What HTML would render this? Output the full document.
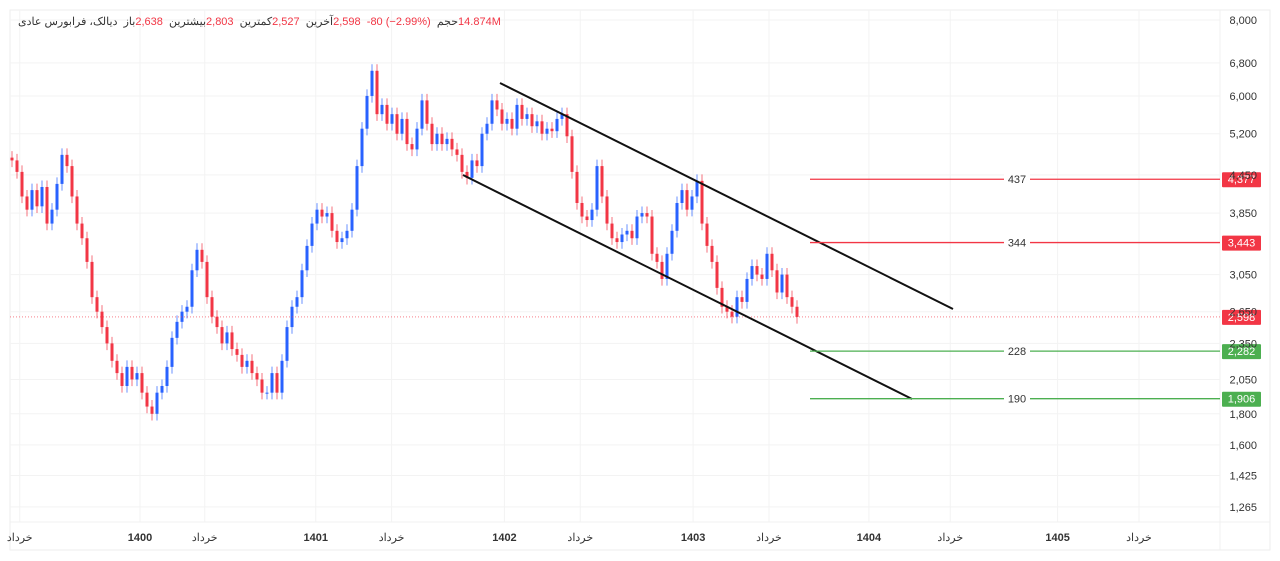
<!DOCTYPE html>
<html><head><meta charset="utf-8"><style>
body{margin:0;background:#fff;font-family:"Liberation Sans","Noto Sans CJK SC",sans-serif;}
svg text{font-family:"Liberation Sans","Noto Sans CJK SC",sans-serif;}
#hdr{position:absolute;left:18px;top:15px;font-size:11px;color:#333;direction:ltr;white-space:nowrap;}
#hdr span{color:#f23645;unicode-bidi:isolate;direction:ltr;}
#hdr bdi{unicode-bidi:isolate;}
</style></head><body>
<svg id="c" width="1280" height="561" viewBox="0 0 1280 561" xmlns="http://www.w3.org/2000/svg" style="position:absolute;left:0;top:0">
<rect x="0" y="0" width="1280" height="561" fill="#fff"/>
<rect x="10" y="10" width="1260" height="540" fill="none" stroke="#eeeeee"/>
<line x1="1220" y1="10" x2="1220" y2="550" stroke="#f0f0f0"/>
<line x1="10" y1="522" x2="1270" y2="522" stroke="#f0f0f0"/>
<g id="grid"></g><g id="candles"></g><g id="overlay"></g><g id="axes"></g>
</svg>
<div id="hdr"><bdi dir="rtl">دیالک، فرابورس عادی</bdi>&nbsp; <bdi dir="rtl">باز</bdi><span>2,638</span>&nbsp; <bdi dir="rtl">بیشترین</bdi><span>2,803</span>&nbsp; <bdi dir="rtl">کمترین</bdi><span>2,527</span>&nbsp; <bdi dir="rtl">آخرین</bdi><span>2,598</span>&nbsp; <span>-80 (−2.99%)</span>&nbsp; <bdi dir="rtl">حجم</bdi><span>14.874M</span></div>
<script>
const ticks=[8000,6800,6000,5200,4450,3850,3050,2650,2350,2050,1800,1600,1425,1265];
const xLabels=["خرداد","1400","خرداد","1401","خرداد","1402","خرداد","1403","خرداد","1404","خرداد","1405","خرداد"];
const xLabelPos=[-0.25,0.4,0.75,1.35,1.76,2.37,2.78,3.39,3.8,4.34,4.78,5.36,5.8];
const closes=[4700,4500,4100,3900,4200,3950,4250,3700,3900,4300,4800,4600,4100,3700,3500,3200,2800,2650,2500,2350,2200,2100,2000,2150,2050,2100,1950,1850,1800,1950,2000,2150,2400,2550,2650,2700,3100,3350,3200,2800,2600,2500,2350,2450,2300,2250,2150,2200,2100,2050,1950,1950,2100,1950,2200,2500,2700,2800,3100,3400,3700,3900,3800,3850,3600,3450,3500,3600,3900,4600,5300,6000,6600,5600,5800,5400,5600,5200,5500,5000,4900,5300,5900,5400,5000,5200,5000,5100,4900,4800,4500,4400,4700,4600,5200,5400,5900,5700,5400,5500,5300,5800,5500,5600,5350,5450,5200,5300,5250,5500,5600,5150,4500,4000,3800,3750,3900,4600,4100,3700,3500,3450,3550,3600,3500,3800,3850,3800,3300,3200,3000,3300,3600,4000,4200,3900,4100,4350,3700,3400,3200,2900,2700,2650,2600,2800,2750,3000,3150,3050,3000,3300,3100,2850,3050,2800,2700,2598];
const firstOpen=4750;
const levels=[4377,3443,2282,1906];
const levelLabels=["437","344","228","190"];
const levelColors=["#f23645","#f23645","#4caf50","#4caf50"];
const lastPrice=2598;
const NS="http://www.w3.org/2000/svg";
function y(p){return 20+Math.log(8000/p)*264;}
function xi(i){return 12+i*5;}
function xYear(t){return 140+t*185;}
function mk(tag,attrs,parent){const e=document.createElementNS(NS,tag);for(const k in attrs)e.setAttribute(k,attrs[k]);parent.appendChild(e);return e;}
const grid=document.getElementById('grid'),cg=document.getElementById('candles'),ov=document.getElementById('overlay'),ax=document.getElementById('axes');
ticks.forEach(t=>{const l=mk('line',{x1:10,x2:1220,y1:y(t),y2:y(t),stroke:'#f3f3f3'},grid);

});
xLabelPos.forEach((p,i)=>{const X=xYear(p-0.4);const l=mk('line',{x1:X,x2:X,y1:10,y2:522,stroke:'#f3f3f3'},grid);


const t=mk('text',{x:X,y:541,'text-anchor':'middle','font-size':11,fill:'#333','font-weight':/^\d+$/.test(xLabels[i])?'bold':'normal'},ax);t.textContent=xLabels[i];

});
ticks.forEach(t=>{const e=mk('text',{x:1257,y:y(t)+4,'text-anchor':'end','font-size':11,fill:'#333'},ax);e.textContent=t.toLocaleString('en-US');

});
closes.forEach((c,i)=>{const o=i?closes[i-1]:firstOpen;const up=c>=o;const col=up?'#2962ff':'#f23645';const X=xi(i);
const hi=Math.max(o,c)*1.025,lo=Math.min(o,c)*0.975;
const w=mk('line',{x1:X,x2:X,y1:y(hi),y2:y(lo),stroke:col,'stroke-width':1,opacity:0.7},cg);


const top=y(Math.max(o,c)),bot=y(Math.min(o,c));
const b=mk('rect',{x:X-1.5,y:top,width:3,height:Math.max(1,bot-top),fill:col},cg);

});
const cp=mk('line',{x1:10,x2:1220,y1:y(lastPrice),y2:y(lastPrice),stroke:'#f23645','stroke-width':0.7,'stroke-dasharray':'1 2'},ov);


const ch1=mk('line',{x1:500,y1:83,x2:953,y2:309,stroke:'#111','stroke-width':2},ov);


const ch2=mk('line',{x1:463,y1:175,x2:912,y2:399,stroke:'#111','stroke-width':2},ov);


levels.forEach((v,i)=>{const Y=y(v);const l=mk('line',{x1:810,x2:1220,y1:Y,y2:Y,stroke:levelColors[i],'stroke-width':1.3},ov);


const bg=mk('rect',{x:1004,y:Y-7,width:26,height:14,fill:'#fff'},ov);


const t=mk('text',{x:1017,y:Y+4,'text-anchor':'middle','font-size':11,fill:'#333'},ov);t.textContent=levelLabels[i];

});
function tag(v,col,name){const Y=y(v);const r=mk('rect',{x:1222,y:Y-7,width:39,height:15,fill:col,rx:1},ov);


const t=mk('text',{x:1241.5,y:Y+4,'text-anchor':'middle','font-size':11,fill:'#fff'},ov);t.textContent=v.toLocaleString('en-US');

}
levels.forEach((v,i)=>tag(v,levelColors[i],'level-price-tag'));
tag(lastPrice,'#f23645','last-price-tag');
</script>
</body></html>
